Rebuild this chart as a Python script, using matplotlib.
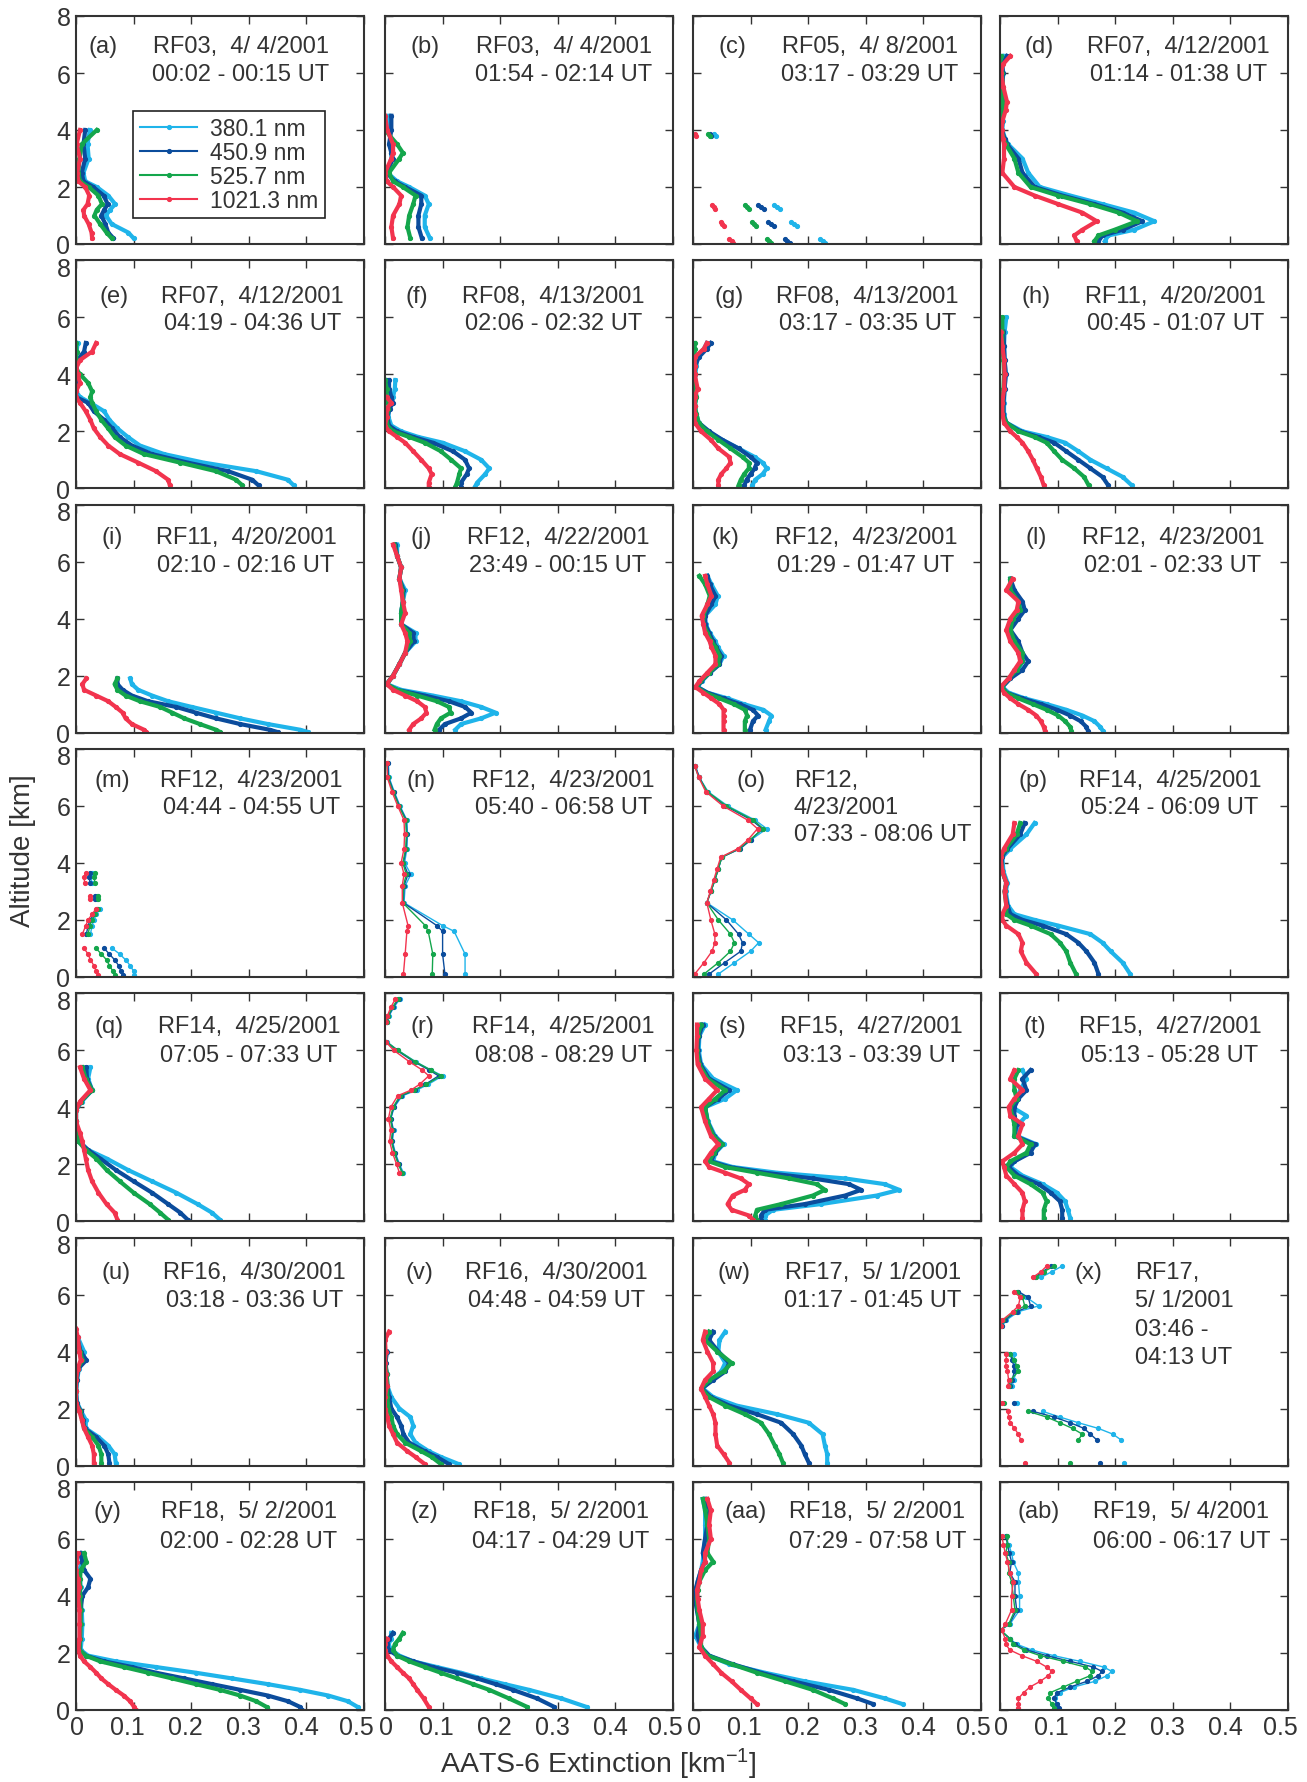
import numpy as np
import matplotlib
matplotlib.use('Agg')
import matplotlib.pyplot as plt
from matplotlib.transforms import ScaledTranslation

nan = np.nan

# channels of the AATS-6 sunphotometer
channels = ['380.1 nm', '450.9 nm', '525.7 nm', '1021.3 nm']
colors = ['#1fb4ea', '#0b4c9c', '#14a64c', '#f2344e']

# ---------------- extinction profiles: altitude [km], extinction [1/km] ----------------
alt_a = [4.0, 3.5, 3.0, 2.5, 2.2, 2.0, 1.7, 1.4, 1.2, 1.0, 0.7, 0.4, 0.2]
a_380 = [0.024, 0.020, 0.022, 0.013, 0.016, 0.036, 0.056, 0.068, 0.059, 0.052, 0.062, 0.091, 0.100]
a_451 = [0.016, 0.013, 0.016, 0.010, 0.013, 0.030, 0.048, 0.055, 0.049, 0.044, 0.051, 0.056, 0.065]
a_526 = [0.036, 0.010, 0.006, 0.004, 0.007, 0.022, 0.039, 0.045, 0.036, 0.032, 0.042, 0.053, 0.062]
a_1021 = [0.007, 0.001, 0.007, 0.002, 0.004, 0.016, 0.023, 0.020, 0.013, 0.014, 0.022, 0.027, 0.028]

alt_b = [4.5, 4.0, 3.5, 3.2, 3.0, 2.5, 2.2, 2.0, 1.7, 1.4, 1.0, 0.6, 0.2]
b_380 = [0.007, 0.007, 0.010, 0.011, 0.011, 0.004, 0.021, 0.042, 0.069, 0.076, 0.069, 0.069, 0.078]
b_451 = [0.011, 0.011, 0.007, 0.011, 0.014, 0.003, 0.017, 0.035, 0.063, 0.063, 0.058, 0.058, 0.064]
b_526 = [nan, 0.000, 0.021, 0.031, 0.025, 0.007, 0.014, 0.031, 0.053, 0.049, 0.042, 0.039, 0.044]
b_1021 = [0.000, 0.004, 0.014, 0.014, 0.011, 0.000, 0.003, 0.014, 0.028, 0.025, 0.014, 0.011, 0.014]

alt_c = [3.85, 3.78, nan, 1.38, 1.30, 1.22, nan, 0.78, 0.70, 0.62, nan, 0.18, 0.10, 0.02]
c_380 = [0.037, 0.040, nan, 0.141, 0.146, 0.151, nan, 0.170, 0.175, 0.180, nan, 0.220, 0.225, 0.230]
c_451 = [0.029, 0.032, nan, 0.113, 0.118, 0.123, nan, 0.131, 0.136, 0.141, nan, 0.159, 0.164, 0.169]
c_526 = [0.026, 0.029, nan, 0.090, 0.094, 0.098, nan, 0.102, 0.106, 0.110, nan, 0.128, 0.132, 0.136]
c_1021 = [0.003, 0.005, nan, 0.033, 0.036, 0.039, nan, 0.048, 0.051, 0.054, nan, 0.063, 0.067, 0.070]

alt_d = [6.6, 6.3, 6.0, 5.5, 5.0, 4.7, 4.3, 4.0, 3.7, 3.5, 3.0, 2.5, 2.0, 1.7, 1.4, 1.1, 0.8, 0.5, 0.3, 0.1]
d_380 = [0.007, 0.003, 0.006, 0.003, 0.007, 0.005, 0.005, 0.004, 0.009, 0.014, 0.039, 0.049, 0.069, 0.122, 0.178, 0.233, 0.268, 0.233, 0.188, 0.182]
d_451 = [0.012, 0.004, 0.005, 0.004, 0.006, 0.004, 0.004, 0.003, 0.008, 0.012, 0.032, 0.039, 0.060, 0.108, 0.164, 0.213, 0.247, 0.213, 0.178, 0.171]
d_526 = [0.002, 0.000, 0.003, 0.005, 0.004, 0.006, 0.003, 0.002, 0.006, 0.010, 0.025, 0.032, 0.053, 0.101, 0.157, 0.206, 0.238, 0.199, 0.171, 0.164]
d_1021 = [0.018, 0.005, 0.002, 0.006, 0.012, 0.010, 0.004, 0.003, 0.005, 0.007, 0.007, 0.004, 0.025, 0.060, 0.101, 0.143, 0.168, 0.143, 0.129, 0.133]

alt_e = [5.1, 4.8, 4.5, 4.2, 4.0, 3.7, 3.4, 3.2, 3.0, 2.7, 2.4, 2.1, 1.8, 1.5, 1.2, 0.9, 0.6, 0.3, 0.1]
e_380 = [0.003, 0.001, 0.000, 0.000, 0.000, 0.000, 0.000, 0.007, 0.025, 0.049, 0.058, 0.072, 0.090, 0.111, 0.153, 0.222, 0.313, 0.368, 0.378]
e_451 = [0.017, 0.014, 0.003, 0.000, 0.000, 0.003, 0.000, 0.000, 0.021, 0.031, 0.049, 0.063, 0.076, 0.097, 0.132, 0.194, 0.264, 0.306, 0.317]
e_526 = [0.000, 0.001, 0.000, 0.000, 0.007, 0.021, 0.028, 0.025, 0.028, 0.035, 0.044, 0.056, 0.067, 0.086, 0.118, 0.181, 0.243, 0.278, 0.289]
e_1021 = [0.035, 0.028, 0.007, 0.000, 0.003, 0.007, 0.000, 0.000, 0.007, 0.017, 0.025, 0.031, 0.042, 0.056, 0.076, 0.108, 0.139, 0.160, 0.163]

alt_f = [3.8, 3.5, 3.2, 3.0, 2.8, 2.5, 2.2, 2.0, 1.8, 1.6, 1.3, 1.0, 0.7, 0.5, 0.2, 0.05]
f_380 = [0.018, 0.017, 0.014, 0.011, 0.007, 0.006, 0.011, 0.028, 0.058, 0.100, 0.139, 0.167, 0.181, 0.174, 0.160, 0.156]
f_451 = [0.007, 0.007, 0.011, 0.014, 0.008, 0.004, 0.007, 0.021, 0.049, 0.083, 0.118, 0.139, 0.146, 0.142, 0.132, 0.132]
f_526 = [0.000, 0.003, 0.003, 0.006, 0.006, 0.003, 0.004, 0.014, 0.042, 0.069, 0.097, 0.115, 0.132, 0.129, 0.125, 0.122]
f_1021 = [nan, nan, 0.003, 0.011, 0.003, 0.003, 0.000, 0.007, 0.021, 0.035, 0.049, 0.063, 0.076, 0.081, 0.076, 0.076]

alt_g = [5.1, 4.9, 4.6, 4.3, 4.0, 3.5, 3.2, 2.9, 2.6, 2.3, 2.0, 1.7, 1.4, 1.1, 0.9, 0.7, 0.5, 0.3, 0.1]
g_380 = [0.024, 0.019, 0.007, 0.006, 0.004, 0.004, 0.006, 0.003, 0.006, 0.010, 0.024, 0.051, 0.079, 0.107, 0.121, 0.128, 0.121, 0.108, 0.103]
g_451 = [0.031, 0.024, 0.010, 0.004, 0.003, 0.003, 0.004, 0.003, 0.003, 0.010, 0.028, 0.051, 0.079, 0.100, 0.111, 0.107, 0.100, 0.093, 0.089]
g_526 = [0.003, 0.003, 0.003, 0.003, 0.003, 0.004, 0.006, 0.003, 0.006, 0.010, 0.024, 0.044, 0.065, 0.086, 0.097, 0.097, 0.089, 0.083, 0.079]
g_1021 = [0.024, 0.019, 0.003, 0.003, 0.003, 0.008, 0.003, 0.003, 0.003, 0.003, 0.014, 0.031, 0.044, 0.063, 0.065, 0.058, 0.049, 0.044, 0.044]

alt_h = [6.0, 5.5, 5.0, 4.5, 4.0, 3.5, 3.0, 2.6, 2.3, 2.0, 1.8, 1.6, 1.3, 1.0, 0.7, 0.4, 0.1]
h_380 = [0.011, 0.008, 0.007, 0.008, 0.010, 0.008, 0.007, 0.007, 0.011, 0.039, 0.081, 0.113, 0.136, 0.157, 0.185, 0.213, 0.229]
h_451 = [nan, 0.006, 0.007, 0.008, 0.010, 0.008, 0.006, 0.006, 0.011, 0.035, 0.067, 0.094, 0.115, 0.136, 0.157, 0.178, 0.188]
h_526 = [0.004, 0.004, 0.004, 0.006, 0.007, 0.006, 0.004, 0.004, 0.011, 0.032, 0.060, 0.081, 0.094, 0.108, 0.129, 0.146, 0.154]
h_1021 = [nan, 0.001, 0.004, 0.007, 0.008, 0.007, 0.004, 0.004, 0.007, 0.018, 0.029, 0.039, 0.049, 0.057, 0.064, 0.071, 0.076]

alt_i = [1.9, 1.7, 1.5, 1.3, 1.1, 0.9, 0.7, 0.5, 0.3, 0.1, 0.02]
i_380 = [0.094, 0.097, 0.108, 0.132, 0.160, 0.201, 0.243, 0.285, 0.333, 0.389, 0.403]
i_451 = [0.072, 0.072, 0.081, 0.097, 0.125, 0.174, 0.208, 0.243, 0.285, 0.336, 0.350]
i_526 = [0.072, 0.067, 0.072, 0.086, 0.111, 0.146, 0.167, 0.188, 0.215, 0.243, 0.250]
i_1021 = [0.018, 0.011, 0.014, 0.035, 0.056, 0.069, 0.081, 0.086, 0.097, 0.118, 0.122]

alt_j = [6.6, 6.2, 5.8, 5.4, 5.0, 4.6, 4.2, 3.8, 3.5, 3.2, 2.8, 2.4, 2.0, 1.7, 1.5, 1.3, 1.1, 0.9, 0.7, 0.5, 0.3, 0.1]
j_380 = [0.021, 0.021, 0.028, 0.025, 0.035, 0.031, 0.028, 0.028, 0.053, 0.053, 0.035, 0.025, 0.014, 0.003, 0.028, 0.083, 0.132, 0.167, 0.192, 0.167, 0.132, 0.122]
j_451 = [0.018, 0.021, 0.028, 0.025, 0.032, 0.031, 0.028, 0.028, 0.049, 0.050, 0.035, 0.025, 0.014, 0.003, 0.021, 0.069, 0.111, 0.139, 0.150, 0.132, 0.104, 0.094]
j_526 = [0.016, 0.021, 0.028, 0.025, 0.030, 0.031, 0.028, 0.028, 0.042, 0.044, 0.035, 0.025, 0.014, 0.003, 0.021, 0.056, 0.090, 0.111, 0.114, 0.097, 0.090, 0.086]
j_1021 = [0.014, 0.021, 0.028, 0.025, 0.028, 0.031, 0.035, 0.028, 0.035, 0.039, 0.035, 0.025, 0.014, 0.003, 0.014, 0.035, 0.056, 0.069, 0.072, 0.063, 0.049, 0.042]

alt_k = [5.5, 5.2, 4.8, 4.5, 4.1, 3.8, 3.5, 3.2, 3.0, 2.7, 2.4, 2.1, 1.8, 1.6, 1.4, 1.2, 1.0, 0.8, 0.6, 0.4, 0.1]
k_380 = [0.025, 0.032, 0.043, 0.039, 0.021, 0.022, 0.029, 0.039, 0.043, 0.053, 0.046, 0.029, 0.015, 0.008, 0.025, 0.060, 0.088, 0.122, 0.136, 0.132, 0.126]
k_451 = [0.025, 0.029, 0.039, 0.032, 0.021, 0.021, 0.028, 0.035, 0.040, 0.049, 0.046, 0.029, 0.014, 0.007, 0.025, 0.053, 0.081, 0.104, 0.113, 0.104, 0.099]
k_526 = [0.011, 0.021, 0.029, 0.025, 0.018, 0.018, 0.025, 0.032, 0.039, 0.046, 0.043, 0.028, 0.013, 0.006, 0.021, 0.046, 0.071, 0.090, 0.094, 0.090, 0.090]
k_1021 = [0.021, 0.025, 0.032, 0.025, 0.015, 0.018, 0.021, 0.029, 0.032, 0.039, 0.039, 0.025, 0.011, 0.004, 0.018, 0.032, 0.046, 0.053, 0.053, 0.053, 0.053]

alt_l = [5.4, 5.0, 4.6, 4.3, 4.0, 3.6, 3.2, 2.8, 2.5, 2.2, 1.9, 1.6, 1.4, 1.2, 1.0, 0.8, 0.6, 0.4, 0.2, 0.05]
l_380 = [0.018, 0.018, 0.039, 0.039, 0.025, 0.015, 0.025, 0.035, 0.039, 0.032, 0.017, 0.004, 0.015, 0.043, 0.081, 0.115, 0.143, 0.164, 0.174, 0.179]
l_451 = [0.018, 0.025, 0.039, 0.043, 0.032, 0.018, 0.032, 0.039, 0.049, 0.039, 0.018, 0.004, 0.011, 0.039, 0.071, 0.099, 0.122, 0.140, 0.150, 0.153]
l_526 = [0.018, 0.018, 0.032, 0.035, 0.022, 0.018, 0.025, 0.039, 0.039, 0.029, 0.015, 0.003, 0.011, 0.032, 0.057, 0.081, 0.101, 0.113, 0.122, 0.124]
l_1021 = [0.022, 0.011, 0.032, 0.029, 0.018, 0.011, 0.018, 0.032, 0.035, 0.025, 0.015, 0.001, 0.007, 0.018, 0.032, 0.049, 0.063, 0.071, 0.076, 0.078]

alt_m = [3.65, 3.5, 3.3, nan, 2.85, 2.75, nan, 2.4, 2.2, 2.0, 1.8, 1.5, nan, 1.0, 0.8, 0.6, 0.4, 0.2, 0.05]
m_380 = [0.028, 0.025, 0.028, nan, 0.036, 0.036, nan, 0.042, 0.035, 0.031, 0.028, 0.025, nan, 0.063, 0.076, 0.086, 0.094, 0.100, 0.101]
m_451 = [0.025, 0.022, 0.025, nan, 0.033, 0.033, nan, 0.036, 0.031, 0.025, 0.021, 0.018, nan, 0.049, 0.058, 0.067, 0.074, 0.078, 0.081]
m_526 = [0.033, 0.031, 0.033, nan, 0.039, 0.039, nan, 0.039, 0.033, 0.028, 0.024, 0.021, nan, 0.035, 0.044, 0.053, 0.058, 0.064, 0.067]
m_1021 = [0.017, 0.014, 0.015, nan, 0.025, 0.025, nan, 0.035, 0.028, 0.021, 0.017, 0.011, nan, 0.014, 0.021, 0.025, 0.031, 0.035, 0.038]

alt_n = [7.5, 7.0, 6.5, 6.0, 5.5, 5.0, 4.5, 4.0, 3.6, 3.2, 2.6, 1.8, 1.6, 0.8, 0.1]
n_380 = [0.006, 0.007, 0.016, 0.026, 0.038, 0.039, 0.038, 0.034, 0.045, 0.035, 0.033, 0.100, 0.120, 0.139, 0.139]
n_451 = [0.005, 0.006, 0.015, 0.025, 0.037, 0.038, 0.037, 0.032, 0.040, 0.033, 0.032, 0.090, 0.100, 0.100, 0.104]
n_526 = [0.003, 0.005, 0.014, 0.024, 0.036, 0.037, 0.036, 0.031, 0.037, 0.032, 0.031, 0.070, 0.075, 0.083, 0.082]
n_1021 = [0.004, 0.004, 0.012, 0.022, 0.033, 0.034, 0.033, 0.028, 0.033, 0.030, 0.030, 0.040, 0.038, 0.035, 0.032]

alt_o = [7.4, 7.0, 6.5, 6.0, 5.5, 5.2, 4.8, 4.5, 4.2, 3.8, 3.4, 3.0, 2.6, 2.0, 1.5, 1.2, 0.9, 0.5, 0.1]
o_380 = [0.004, 0.011, 0.026, 0.060, 0.108, 0.128, 0.100, 0.080, 0.050, 0.044, 0.038, 0.031, 0.024, 0.069, 0.097, 0.114, 0.100, 0.072, 0.044]
o_451 = [0.004, 0.011, 0.024, 0.056, 0.102, 0.120, 0.100, 0.082, 0.050, 0.044, 0.038, 0.031, 0.024, 0.058, 0.079, 0.086, 0.083, 0.055, 0.028]
o_526 = [0.003, 0.010, 0.025, 0.058, 0.105, 0.122, 0.098, 0.080, 0.050, 0.044, 0.038, 0.031, 0.024, 0.044, 0.065, 0.072, 0.065, 0.044, 0.019]
o_1021 = [0.003, 0.010, 0.022, 0.052, 0.095, 0.112, 0.095, 0.078, 0.048, 0.042, 0.036, 0.030, 0.024, 0.031, 0.038, 0.038, 0.033, 0.019, 0.003]

alt_p = [5.4, 5.0, 4.5, 4.2, 3.7, 3.3, 3.0, 2.5, 2.2, 2.0, 1.8, 1.5, 1.2, 0.9, 0.5, 0.1]
p_380 = [0.060, 0.046, 0.018, 0.004, 0.006, 0.013, 0.010, 0.014, 0.025, 0.060, 0.101, 0.157, 0.178, 0.192, 0.213, 0.226]
p_451 = [0.043, 0.035, 0.013, 0.003, 0.004, 0.011, 0.008, 0.013, 0.018, 0.039, 0.074, 0.115, 0.136, 0.150, 0.164, 0.171]
p_526 = [0.035, 0.029, 0.010, 0.001, 0.004, 0.011, 0.008, 0.011, 0.011, 0.025, 0.053, 0.088, 0.104, 0.115, 0.122, 0.132]
p_1021 = [0.025, 0.022, 0.007, 0.001, 0.004, 0.011, 0.008, 0.011, 0.004, 0.004, 0.011, 0.032, 0.039, 0.036, 0.046, 0.063]

alt_q = [5.4, 5.0, 4.6, 4.2, 3.9, 3.5, 3.1, 2.8, 2.5, 2.2, 1.8, 1.4, 1.0, 0.6, 0.3, 0.05]
q_380 = [0.025, 0.021, 0.028, 0.010, 0.000, 0.000, 0.003, 0.006, 0.021, 0.053, 0.090, 0.132, 0.174, 0.211, 0.236, 0.250]
q_451 = [0.018, 0.019, 0.028, 0.008, 0.000, 0.000, 0.003, 0.004, 0.021, 0.042, 0.069, 0.100, 0.132, 0.160, 0.181, 0.194]
q_526 = [0.011, 0.017, 0.028, 0.008, 0.000, 0.000, 0.003, 0.004, 0.017, 0.035, 0.053, 0.076, 0.100, 0.128, 0.146, 0.160]
q_1021 = [0.007, 0.014, 0.025, 0.007, 0.000, 0.000, 0.007, 0.011, 0.014, 0.017, 0.021, 0.028, 0.039, 0.053, 0.067, 0.072]

alt_r = [7.8, 7.5, 7.2, 7.0, nan, 6.3, 6.0, 5.6, 5.3, 5.1, 4.8, 4.6, 4.4, 4.0, 3.6, 3.2, 2.8, 2.4, 2.0, 1.7]
r_380 = [0.026, 0.015, 0.007, 0.004, nan, 0.003, 0.022, 0.053, 0.080, 0.100, 0.075, 0.055, 0.030, 0.016, 0.010, 0.015, 0.013, 0.018, 0.025, 0.032]
r_451 = [0.024, 0.014, 0.006, 0.004, nan, 0.002, 0.020, 0.050, 0.077, 0.093, 0.070, 0.052, 0.028, 0.015, 0.010, 0.014, 0.012, 0.017, 0.024, 0.030]
r_526 = [0.022, 0.013, 0.005, 0.003, nan, 0.002, 0.022, 0.052, 0.080, 0.097, 0.072, 0.050, 0.026, 0.014, 0.009, 0.013, 0.011, 0.016, 0.023, 0.030]
r_1021 = [0.018, 0.010, 0.004, 0.002, nan, 0.001, 0.015, 0.042, 0.065, 0.076, 0.060, 0.045, 0.022, 0.010, 0.006, 0.010, 0.008, 0.013, 0.020, 0.025]

alt_s = [6.9, 6.5, 6.0, 5.5, 5.0, 4.6, 4.3, 4.0, 3.5, 3.0, 2.7, 2.4, 2.1, 1.9, 1.7, 1.5, 1.3, 1.1, 0.9, 0.6, 0.4, 0.2, 0.05]
s_380 = [0.021, 0.011, 0.010, 0.014, 0.035, 0.076, 0.056, 0.021, 0.026, 0.038, 0.053, 0.039, 0.035, 0.069, 0.146, 0.264, 0.333, 0.358, 0.319, 0.222, 0.139, 0.125, 0.125]
s_451 = [0.017, 0.010, 0.008, 0.013, 0.028, 0.063, 0.044, 0.021, 0.025, 0.036, 0.051, 0.038, 0.031, 0.063, 0.125, 0.208, 0.271, 0.292, 0.264, 0.194, 0.125, 0.118, 0.118]
s_526 = [0.014, 0.008, 0.007, 0.011, 0.025, 0.056, 0.039, 0.021, 0.025, 0.035, 0.050, 0.036, 0.028, 0.056, 0.111, 0.167, 0.215, 0.229, 0.208, 0.153, 0.111, 0.108, 0.111]
s_1021 = [0.007, 0.007, 0.006, 0.008, 0.021, 0.042, 0.028, 0.014, 0.021, 0.031, 0.044, 0.031, 0.021, 0.028, 0.056, 0.083, 0.097, 0.090, 0.069, 0.060, 0.067, 0.097, 0.104]

alt_t = [5.3, 5.0, 4.6, 4.3, 4.0, 3.7, 3.4, 3.0, 2.7, 2.4, 2.1, 1.9, 1.6, 1.3, 1.0, 0.7, 0.4, 0.1]
t_380 = [0.039, 0.046, 0.035, 0.029, 0.021, 0.046, 0.032, 0.028, 0.063, 0.049, 0.025, 0.018, 0.039, 0.074, 0.099, 0.113, 0.118, 0.122]
t_451 = [0.053, 0.039, 0.046, 0.032, 0.025, 0.025, 0.029, 0.025, 0.060, 0.053, 0.025, 0.015, 0.032, 0.067, 0.088, 0.104, 0.108, 0.108]
t_526 = [0.032, 0.025, 0.025, 0.029, 0.018, 0.021, 0.025, 0.025, 0.053, 0.046, 0.018, 0.011, 0.025, 0.053, 0.074, 0.081, 0.076, 0.076]
t_1021 = [0.025, 0.018, 0.039, 0.025, 0.015, 0.018, 0.039, 0.032, 0.039, 0.025, 0.004, 0.007, 0.011, 0.025, 0.039, 0.043, 0.039, 0.039]

alt_u = [4.8, 4.5, 4.0, 3.7, 3.4, 3.0, 2.6, 2.2, 1.9, 1.6, 1.3, 1.0, 0.7, 0.4, 0.1]
u_380 = [nan, 0.003, 0.014, 0.012, 0.005, 0.002, 0.000, 0.002, 0.009, 0.017, 0.017, 0.039, 0.056, 0.067, 0.069]
u_451 = [nan, 0.002, 0.008, 0.018, 0.004, 0.001, 0.000, 0.001, 0.008, 0.012, 0.015, 0.035, 0.049, 0.056, 0.058]
u_526 = [nan, 0.001, 0.007, 0.011, 0.003, 0.000, 0.000, 0.000, 0.007, 0.011, 0.014, 0.028, 0.039, 0.044, 0.044]
u_1021 = [0.000, 0.003, 0.006, 0.008, 0.003, 0.000, 0.000, 0.000, 0.006, 0.010, 0.014, 0.021, 0.028, 0.031, 0.031]

alt_v = [4.7, 4.4, 4.0, 3.6, 3.2, 2.8, 2.4, 2.0, 1.7, 1.4, 1.1, 0.8, 0.5, 0.3, 0.05]
v_380 = [nan, nan, 0.003, 0.000, 0.003, 0.004, 0.011, 0.025, 0.044, 0.049, 0.044, 0.053, 0.076, 0.097, 0.128]
v_451 = [nan, nan, 0.003, 0.001, 0.003, 0.004, 0.007, 0.011, 0.021, 0.028, 0.032, 0.042, 0.069, 0.090, 0.111]
v_526 = [nan, nan, 0.001, 0.000, 0.003, 0.004, 0.004, 0.006, 0.011, 0.014, 0.021, 0.035, 0.063, 0.081, 0.097]
v_1021 = [0.007, 0.000, 0.001, 0.000, 0.001, 0.003, 0.000, 0.000, 0.004, 0.007, 0.014, 0.021, 0.039, 0.053, 0.069]

alt_w = [4.7, 4.4, 4.0, 3.6, 3.3, 3.0, 2.7, 2.4, 2.1, 1.8, 1.5, 1.1, 0.7, 0.4, 0.1]
w_380 = [0.056, 0.046, 0.044, 0.056, 0.049, 0.031, 0.017, 0.035, 0.076, 0.146, 0.201, 0.225, 0.229, 0.233, 0.233]
w_451 = [0.035, 0.028, 0.044, 0.063, 0.056, 0.035, 0.015, 0.031, 0.063, 0.111, 0.153, 0.174, 0.188, 0.194, 0.201]
w_526 = [0.028, 0.021, 0.042, 0.067, 0.053, 0.028, 0.014, 0.028, 0.056, 0.090, 0.118, 0.132, 0.142, 0.150, 0.156]
w_1021 = [0.021, 0.017, 0.025, 0.035, 0.035, 0.021, 0.014, 0.021, 0.028, 0.035, 0.039, 0.039, 0.042, 0.053, 0.063]

alt_x = [7.0, 6.8, 6.6, nan, 6.1, 5.9, 5.6, 5.4, 5.1, 4.9, nan, 3.9, 3.7, 3.5, 3.3, 3.0, 2.8, nan, 2.2, nan,
         1.9, 1.7, 1.5, 1.3, 1.1, 0.9, nan, 0.1]
x_380 = [0.108, 0.090, 0.071, nan, 0.032, 0.046, 0.067, 0.032, 0.011, 0.004, nan, 0.025, 0.025, 0.026, 0.028, 0.024, 0.021, nan, 0.029, nan,
         0.074, 0.104, 0.136, 0.171, 0.196, 0.210, nan, 0.216]
x_451 = [0.088, 0.074, 0.060, nan, 0.032, 0.049, 0.053, 0.029, 0.008, 0.003, nan, 0.018, 0.021, 0.024, 0.025, 0.021, 0.018, nan, 0.025, nan,
         0.057, 0.094, 0.122, 0.146, 0.157, 0.168, nan, 0.174]
x_526 = [0.094, 0.076, 0.063, nan, 0.029, 0.039, 0.043, 0.025, 0.006, 0.001, nan, 0.018, 0.025, 0.029, 0.032, 0.018, 0.015, nan, 0.007, nan,
         0.049, 0.081, 0.104, 0.126, 0.143, 0.136, nan, 0.122]
x_1021 = [0.081, 0.071, 0.057, nan, 0.025, 0.035, 0.032, 0.022, 0.004, 0.001, nan, 0.011, 0.011, 0.010, 0.013, 0.015, 0.014, nan, 0.004, nan,
          0.014, 0.015, 0.018, 0.025, 0.032, 0.036, nan, 0.044]

alt_y = [5.5, 5.2, 4.9, 4.6, 4.3, 4.0, 3.5, 3.0, 2.5, 2.1, 1.9, 1.7, 1.5, 1.3, 1.1, 0.9, 0.7, 0.5, 0.3, 0.1, 0.0]
y_380 = [0.011, 0.010, 0.006, 0.007, 0.008, 0.006, 0.010, 0.011, 0.010, 0.008, 0.021, 0.069, 0.139, 0.208, 0.271, 0.333, 0.389, 0.438, 0.472, 0.489, 0.490]
y_451 = [0.007, 0.011, 0.014, 0.025, 0.021, 0.011, 0.008, 0.007, 0.007, 0.006, 0.017, 0.049, 0.097, 0.139, 0.188, 0.236, 0.285, 0.333, 0.368, 0.389, 0.392]
y_526 = [0.014, 0.018, 0.008, 0.007, 0.007, 0.007, 0.008, 0.008, 0.007, 0.006, 0.017, 0.042, 0.083, 0.125, 0.167, 0.208, 0.250, 0.285, 0.313, 0.331, 0.333]
y_1021 = [0.003, 0.001, 0.000, 0.003, 0.006, 0.003, 0.006, 0.006, 0.006, 0.004, 0.007, 0.014, 0.025, 0.035, 0.044, 0.056, 0.069, 0.083, 0.094, 0.101, 0.104]

alt_z = [2.7, 2.5, 2.3, 2.1, 1.9, 1.7, 1.5, 1.3, 1.1, 0.9, 0.7, 0.4, 0.1]
z_380 = [0.011, 0.011, 0.006, 0.011, 0.025, 0.049, 0.090, 0.132, 0.167, 0.208, 0.250, 0.306, 0.350]
z_451 = [0.014, 0.007, 0.003, 0.007, 0.021, 0.049, 0.083, 0.125, 0.160, 0.192, 0.222, 0.264, 0.294]
z_526 = [0.031, 0.025, 0.017, 0.014, 0.021, 0.042, 0.069, 0.097, 0.125, 0.153, 0.181, 0.215, 0.247]
z_1021 = [nan, 0.003, 0.000, 0.000, 0.004, 0.011, 0.021, 0.031, 0.042, 0.049, 0.056, 0.067, 0.076]

alt_aa = [7.4, 7.0, 6.5, 6.0, 5.5, 5.2, 4.9, 4.5, 4.2, 3.9, 3.5, 3.0, 2.6, 2.2, 1.9, 1.6, 1.3, 1.0, 0.7, 0.4, 0.2]
aa_380 = [0.017, 0.021, 0.021, 0.021, 0.018, 0.017, 0.014, 0.008, 0.006, 0.004, 0.007, 0.011, 0.004, 0.014, 0.028, 0.063, 0.125, 0.194, 0.278, 0.333, 0.364]
aa_451 = [0.021, 0.025, 0.025, 0.021, 0.017, 0.021, 0.014, 0.008, 0.004, 0.003, 0.007, 0.011, 0.008, 0.014, 0.028, 0.069, 0.118, 0.174, 0.236, 0.285, 0.313]
aa_526 = [0.017, 0.021, 0.025, 0.028, 0.025, 0.035, 0.021, 0.011, 0.008, 0.007, 0.008, 0.011, 0.014, 0.014, 0.025, 0.067, 0.111, 0.160, 0.208, 0.243, 0.264]
aa_1021 = [0.025, 0.031, 0.028, 0.031, 0.021, 0.021, 0.014, 0.011, 0.007, 0.008, 0.011, 0.017, 0.017, 0.011, 0.021, 0.035, 0.049, 0.067, 0.083, 0.100, 0.111]

alt_ab = [6.1, 5.8, 5.5, 5.2, 4.8, 4.5, 4.0, 3.5, 3.0, 2.8, 2.5, 2.3, 2.1, 1.9, 1.7, 1.5, 1.35, 1.2, 1.0, 0.8, 0.6, 0.4, 0.2, 0.05]
ab_380 = [0.010, 0.015, 0.020, 0.023, 0.032, 0.032, 0.034, 0.034, 0.017, 0.000, 0.017, 0.029, 0.055, 0.093, 0.139, 0.180, 0.194, 0.186, 0.165, 0.128, 0.104, 0.096, 0.099, 0.099]
ab_451 = [0.010, 0.013, 0.016, 0.020, 0.017, 0.026, 0.026, 0.029, 0.016, 0.000, 0.017, 0.026, 0.046, 0.081, 0.122, 0.162, 0.177, 0.171, 0.151, 0.122, 0.099, 0.093, 0.099, 0.102]
ab_526 = [0.012, 0.013, 0.010, 0.015, 0.015, 0.020, 0.023, 0.026, 0.015, 0.001, 0.017, 0.023, 0.041, 0.070, 0.110, 0.148, 0.160, 0.157, 0.133, 0.110, 0.087, 0.084, 0.090, 0.093]
ab_1021 = [0.003, 0.006, 0.009, 0.013, 0.017, 0.023, 0.020, 0.020, 0.009, 0.003, 0.009, 0.010, 0.017, 0.038, 0.064, 0.081, 0.090, 0.084, 0.070, 0.052, 0.041, 0.032, 0.032, 0.032]

# panel tag, header lines, data
panels = [
    ('(a)', ['RF03,  4/ 4/2001', '00:02 - 00:15 UT'], alt_a, [a_380, a_451, a_526, a_1021]),
    ('(b)', ['RF03,  4/ 4/2001', '01:54 - 02:14 UT'], alt_b, [b_380, b_451, b_526, b_1021]),
    ('(c)', ['RF05,  4/ 8/2001', '03:17 - 03:29 UT'], alt_c, [c_380, c_451, c_526, c_1021]),
    ('(d)', ['RF07,  4/12/2001', '01:14 - 01:38 UT'], alt_d, [d_380, d_451, d_526, d_1021]),
    ('(e)', ['RF07,  4/12/2001', '04:19 - 04:36 UT'], alt_e, [e_380, e_451, e_526, e_1021]),
    ('(f)', ['RF08,  4/13/2001', '02:06 - 02:32 UT'], alt_f, [f_380, f_451, f_526, f_1021]),
    ('(g)', ['RF08,  4/13/2001', '03:17 - 03:35 UT'], alt_g, [g_380, g_451, g_526, g_1021]),
    ('(h)', ['RF11,  4/20/2001', '00:45 - 01:07 UT'], alt_h, [h_380, h_451, h_526, h_1021]),
    ('(i)', ['RF11,  4/20/2001', '02:10 - 02:16 UT'], alt_i, [i_380, i_451, i_526, i_1021]),
    ('(j)', ['RF12,  4/22/2001', '23:49 - 00:15 UT'], alt_j, [j_380, j_451, j_526, j_1021]),
    ('(k)', ['RF12,  4/23/2001', '01:29 - 01:47 UT'], alt_k, [k_380, k_451, k_526, k_1021]),
    ('(l)', ['RF12,  4/23/2001', '02:01 - 02:33 UT'], alt_l, [l_380, l_451, l_526, l_1021]),
    ('(m)', ['RF12,  4/23/2001', '04:44 - 04:55 UT'], alt_m, [m_380, m_451, m_526, m_1021]),
    ('(n)', ['RF12,  4/23/2001', '05:40 - 06:58 UT'], alt_n, [n_380, n_451, n_526, n_1021]),
    ('(o)', ['RF12,', '4/23/2001', '07:33 - 08:06 UT'], alt_o, [o_380, o_451, o_526, o_1021]),
    ('(p)', ['RF14,  4/25/2001', '05:24 - 06:09 UT'], alt_p, [p_380, p_451, p_526, p_1021]),
    ('(q)', ['RF14,  4/25/2001', '07:05 - 07:33 UT'], alt_q, [q_380, q_451, q_526, q_1021]),
    ('(r)', ['RF14,  4/25/2001', '08:08 - 08:29 UT'], alt_r, [r_380, r_451, r_526, r_1021]),
    ('(s)', ['RF15,  4/27/2001', '03:13 - 03:39 UT'], alt_s, [s_380, s_451, s_526, s_1021]),
    ('(t)', ['RF15,  4/27/2001', '05:13 - 05:28 UT'], alt_t, [t_380, t_451, t_526, t_1021]),
    ('(u)', ['RF16,  4/30/2001', '03:18 - 03:36 UT'], alt_u, [u_380, u_451, u_526, u_1021]),
    ('(v)', ['RF16,  4/30/2001', '04:48 - 04:59 UT'], alt_v, [v_380, v_451, v_526, v_1021]),
    ('(w)', ['RF17,  5/ 1/2001', '01:17 - 01:45 UT'], alt_w, [w_380, w_451, w_526, w_1021]),
    ('(x)', ['RF17,', '5/ 1/2001', '03:46 -', '04:13 UT'], alt_x, [x_380, x_451, x_526, x_1021]),
    ('(y)', ['RF18,  5/ 2/2001', '02:00 - 02:28 UT'], alt_y, [y_380, y_451, y_526, y_1021]),
    ('(z)', ['RF18,  5/ 2/2001', '04:17 - 04:29 UT'], alt_z, [z_380, z_451, z_526, z_1021]),
    ('(aa)', ['RF18,  5/ 2/2001', '07:29 - 07:58 UT'], alt_aa, [aa_380, aa_451, aa_526, aa_1021]),
    ('(ab)', ['RF19,  5/ 4/2001', '06:00 - 06:17 UT'], alt_ab, [ab_380, ab_451, ab_526, ab_1021]),
]

xticks = [0, 0.1, 0.2, 0.3, 0.4, 0.5]
xtick_labels = ['0', '0.1', '0.2', '0.3', '0.4', '0.5']
yticks = [0, 2, 4, 6, 8]

# layout: tag x, header x (centre unless left aligned)
tag_x = [.045, .09, .09, .085, .08, .07, .075, .075, .09, .09, .065, .09, .065, .075,
         .15, .065, .065, .09, .09, .08, .09, .07, .085, .26, .06, .09, .11, .06]
head_x = [.573, .62, .613, .62, .613, .585, .605, .61, .59, .60, .60, .60, .61, .62,
          .35, .59, .60, .62, .62, .59, .62, .595, .625, .47, .60, .61, .64, .63]
row_y = [(.87, .745), (.845, .725), (.86, .735), (.865, .745), (.855, .73), (.85, .725), (.87, .74)]
thin = {'(c)', '(m)', '(n)', '(o)', '(r)', '(x)', '(ab)'}

txt = '#333333'
plt.rcParams['font.family'] = ['Liberation Sans', 'DejaVu Sans']
plt.rcParams['mathtext.default'] = 'regular'

W, H = 1307, 1783
fig = plt.figure(figsize=(W / 100, H / 100), dpi=100)
col_left = [76, 385, 693, 1000]
ax_w, ax_h = 288, 228

for k, (tag, head, alt, exts) in enumerate(panels):
    row, col = divmod(k, 4)
    top = 17 + row * 244.3
    ax = fig.add_axes([col_left[col] / W, 1 - (top + ax_h) / H, ax_w / W, ax_h / H])
    lw = 1.0 if tag in thin else 3.0
    for ext, c, lab in zip(exts, colors, channels):
        ax.plot(ext, alt, '-', marker='.', ms=5.5, lw=lw, color=c, label=lab)
    ax.set_xlim(0, 0.5)
    ax.set_ylim(0, 8)
    ax.set_xticks(xticks)
    ax.set_yticks(yticks)
    ax.tick_params(direction='in', top=True, right=True, length=6, width=1.0,
                   color=txt, labelcolor=txt, labelsize=18, pad=4,
                   labelleft=(col == 0), labelbottom=(row == 6))
    if row == 6:
        ax.set_xticklabels(xtick_labels)
        for lab, dx in zip(ax.get_xticklabels(), [1, -6, -6, -5, -5, -8]):
            lab.set_transform(lab.get_transform() + ScaledTranslation(dx / 100, 0, fig.dpi_scale_trans))
    if col == 0 and row > 0:
        top_lab = ax.get_yticklabels()[-1]
        top_lab.set_transform(top_lab.get_transform() + ScaledTranslation(0, -6 / 100, fig.dpi_scale_trans))
    for sp in ax.spines.values():
        sp.set_color(txt)
        sp.set_linewidth(1.5)

    y1, y2 = row_y[row]
    step = y1 - y2
    ax.text(tag_x[k], y1, tag, transform=ax.transAxes, fontsize=17, color=txt,
            ha='left', va='center')
    ha = 'left' if len(head) > 2 else 'center'
    for i, line in enumerate(head):
        ax.text(head_x[k], y1 - i * step, line, transform=ax.transAxes, fontsize=17,
                color=txt, ha=ha, va='center')

    if k == 0:
        leg = ax.legend(loc='upper left', bbox_to_anchor=(0.198, 0.585), borderaxespad=0,
                        fontsize=16.5, handlelength=2.5, handletextpad=0.55, labelspacing=0.03,
                        borderpad=0.3, fancybox=False, framealpha=1)
        leg.get_frame().set_edgecolor('#222222')
        leg.get_frame().set_linewidth(1.2)
        for t in leg.get_texts():
            t.set_color(txt)
        for h in leg.get_lines():
            h.set_linewidth(1.5)

fig.text(23 / W, 1 - 851 / H, 'Altitude [km]', rotation=90, fontsize=20, color=txt,
         ha='center', va='center')
fig.text(598 / W, 1 - 1764 / H, 'AATS-6 Extinction [km$^{-1}$]', fontsize=20.5, color=txt,
         ha='center', va='center')

fig.savefig('out.png', dpi=100)
